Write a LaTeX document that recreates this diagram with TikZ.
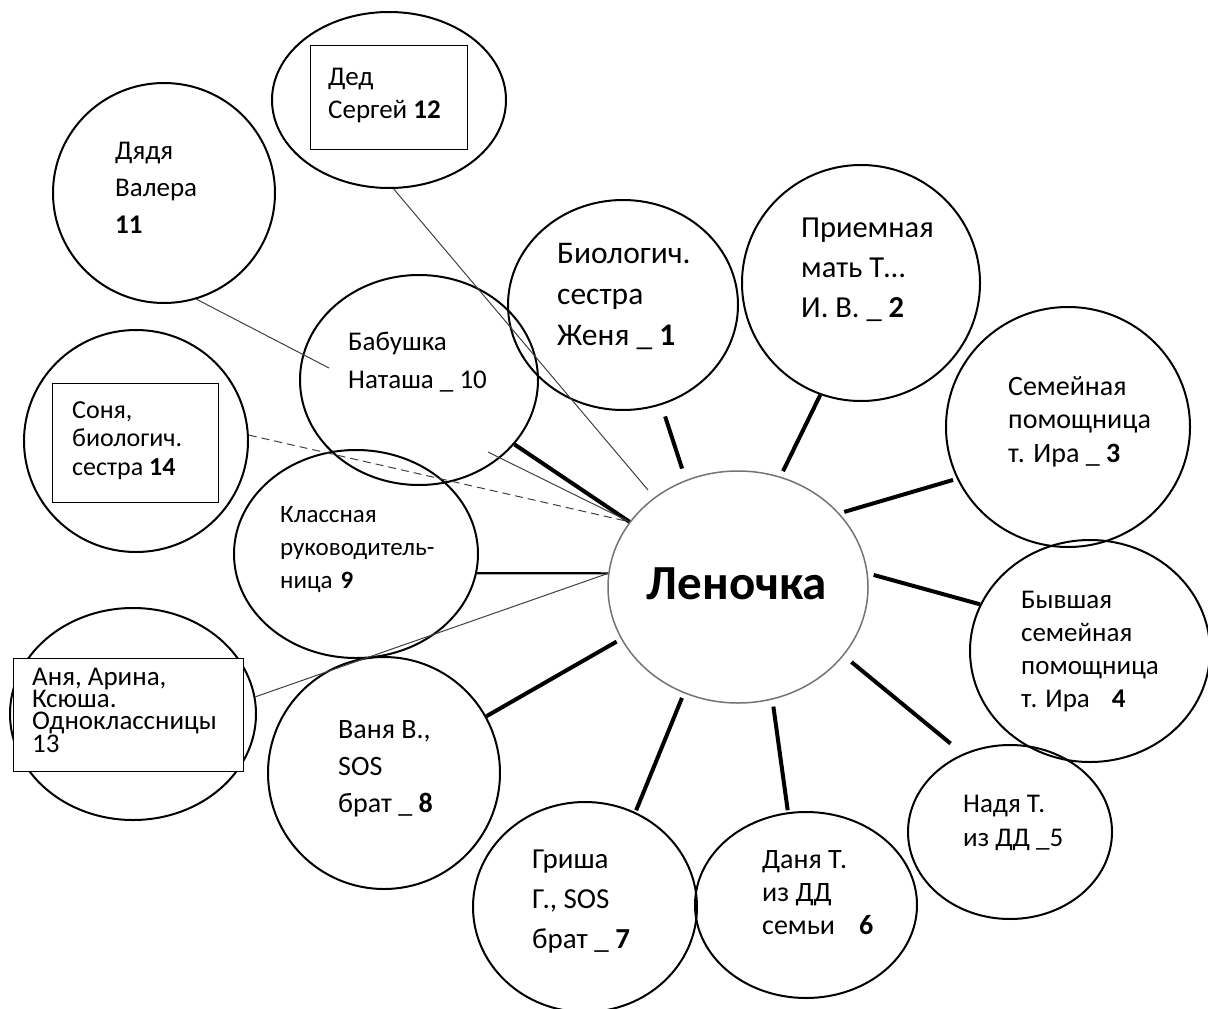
\documentclass[tikz,border=0pt]{standalone}
\usepackage{fontspec}
\setmainfont{Carlito}
\usetikzlibrary{shapes.geometric}
\tikzset{
  pers/.style n args={2}{ellipse, draw, line width=2pt, minimum width=#1pt, minimum height=#2pt, inner sep=0pt},
  lbl/.style n args={2}{anchor=base west, align=left, inner sep=0pt, font=\fontsize{#1}{#2}\selectfont},
  tie/.style={line width=4pt},
  weak/.style={line width=1pt, black!75},
  box/.style={draw, line width=1pt, fill=white}
}
\begin{document}
\begin{tikzpicture}[x=1pt,y=-1pt]
\useasboundingbox (0,0) rectangle (1208,1009);

\node[pers={260}{232}, draw=black!55, line width=1.5pt] (len) at (738,587) {};
\node[font=\fontsize{49}{56}\selectfont\bfseries, anchor=base] (lt) at (737,599) {Леночка};

\node[pers={230}{210}] (n1) at (623,305) {};
\node[pers={238}{236}] (n2) at (861,283) {};
\node[pers={244}{240}] (n3) at (1068,427) {};
\node[pers={240}{222}] (n4) at (1090,651) {};
\node[pers={204}{174}] (n5) at (1010,832) {};
\node[pers={222}{186}] (n6) at (806,905) {};
\node[pers={224}{210}] (n7) at (585,907) {};
\node[pers={232}{232}] (n8) at (384,773) {};
\node[pers={244}{208}] (n9) at (356,554) {};
\node[pers={238}{210}] (n10) at (419,380) {};
\node[pers={222}{220}] (n11) at (164,193) {};
\node[pers={234}{176}] (n12) at (389,100) {};
\node[pers={246}{212}] (n13) at (133,714) {};
\node[pers={224}{222}] (n14) at (136,441) {};

\draw[box] (310,45) rectangle (467,149);
\draw[box] (52,383) rectangle (218,502);
\draw[box] (13,658) rectangle (243,771);

\node[lbl={31.5}{41}] (t1) at (557,345) {Биологич.\\сестра\\Женя \_ \textbf{1}};
\node[lbl={30.5}{40}] (t2) at (801,317) {Приемная\\мать Т…\\И. В. \_ \textbf{2}};
\node[lbl={28}{33.5}] (t3) at (1008,462) {Семейная\\помощница\\т. Ира \_ \textbf{3}};
\node[lbl={27}{33}] (t4) at (1021,707) {Бывшая\\семейная\\помощница\\т. Ира\hspace{22pt}\textbf{4}};
\node[lbl={27}{34}] (t5) at (963,846) {Надя Т.\\из ДД \_5};
\node[lbl={28}{33}] (t6) at (762,934) {Даня Т.\\из ДД\\семьи\hspace{24pt}\textbf{6}};
\node[lbl={29}{40}] (t7) at (532,948) {Гриша\\Г., SOS\\брат \_ \textbf{7}};
\node[lbl={28}{37}] (t8) at (338,812) {Ваня В.,\\SOS\\брат \_ \textbf{8}};
\node[lbl={25}{33}] (t9) at (280,588) {Классная\\руководитель-\\ница\hspace{8pt}\textbf{9}};
\node[lbl={27}{38}] (t10) at (348,388) {Бабушка\\Наташа \_ 10};
\node[lbl={27}{37}] (t11) at (115,233) {Дядя\\Валера\\\textbf{11}};
\node[lbl={27}{33}] (t12) at (328,118) {Дед\\Сергей \textbf{12}};
\node[lbl={27}{22.3}] (t13) at (32,752) {Аня, Арина,\\Ксюша.\\Одноклассницы\\13};
\node[lbl={26}{28.5}] (t14) at (72,475) {Соня,\\биологич.\\сестра \textbf{14}};

\foreach \a/\n/\b/\s/\e in {116/n1/291/12/12, 69/n2/250/6/0, 36/n3/205/5/4, 6/n4/157/6/0,
  327/n5/121/10/16, 287/n6/101/7/2, 243/n7/62/5/2, 204/n8/29/5/0, 149/n10/326/0/0}
  \draw[tie, shorten <=\s pt, shorten >=\e pt] (len.\a) -- (\n.\b);
\draw[line width=2.2pt] (len.174) -- (n9.351);

\coordinate (e11) at (329,368);
\coordinate (e12) at (648,490);
\coordinate (s10) at (488,452);
\draw[weak] (n11.287) -- (e11);
\draw[weak] (n12.273) -- (e12);
\draw[weak] (s10) -- (len.149);
\draw[weak, dash pattern=on 8pt off 5pt] (n14.3) -- (len.149);
\draw[weak] (n13.8) -- (len.174);
\end{tikzpicture}
\end{document}
